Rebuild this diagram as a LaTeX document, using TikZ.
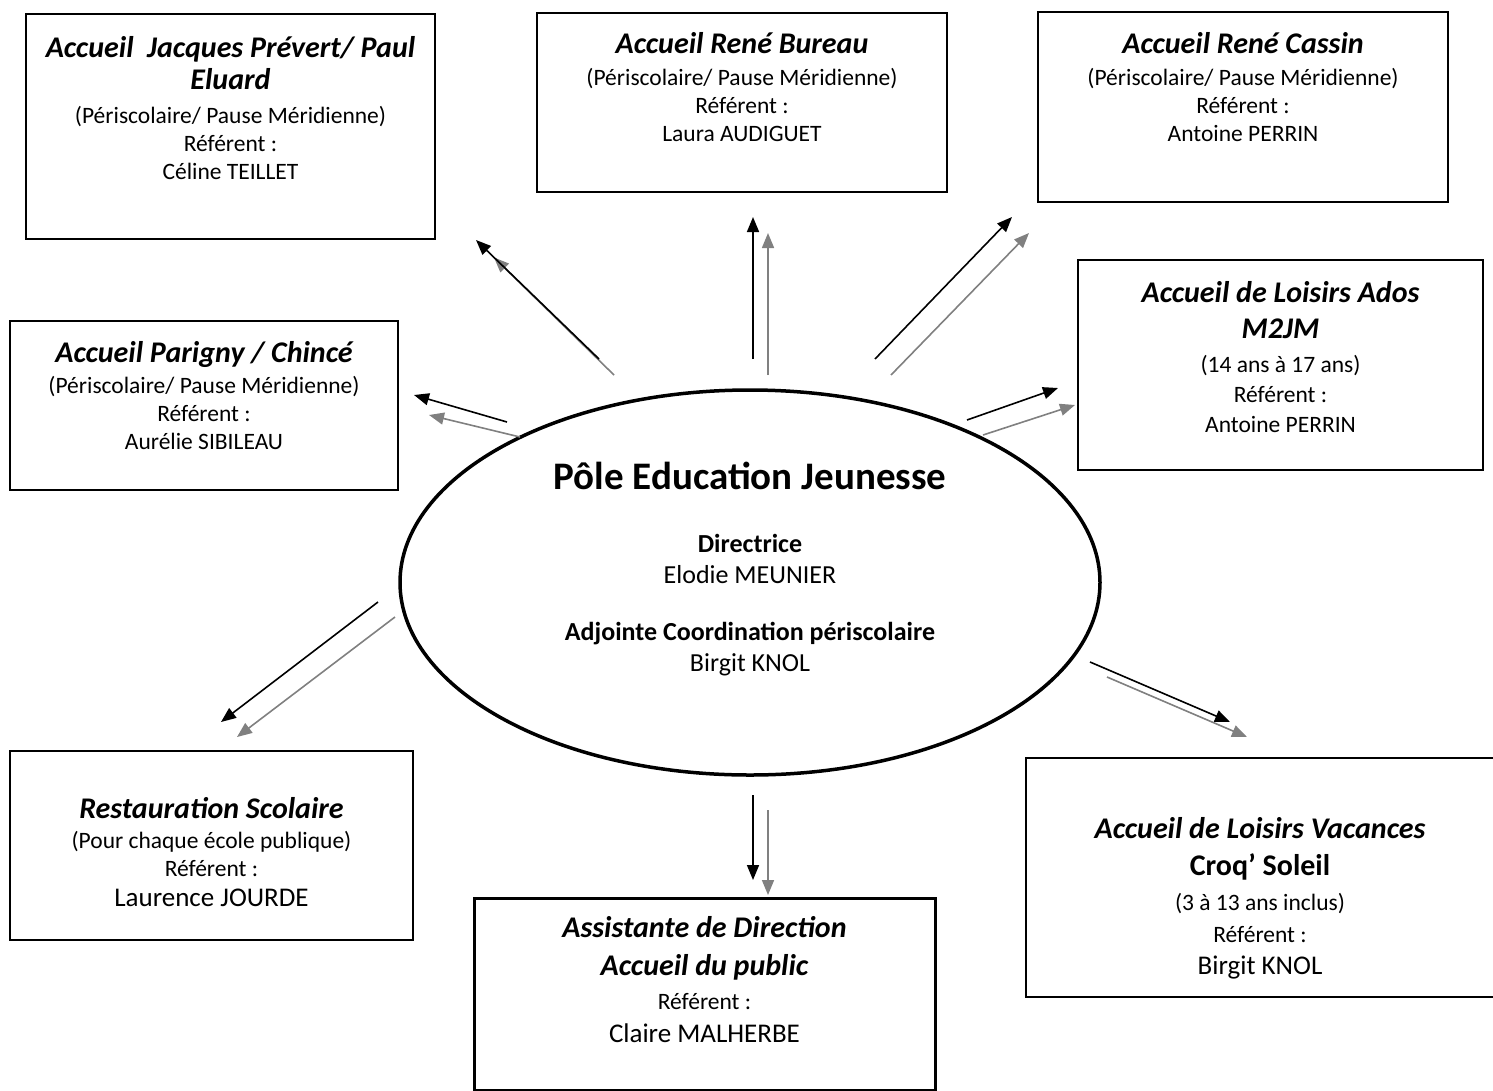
\documentclass[tikz,border=0pt]{standalone}
\usepackage{fontspec}
\setmainfont{Carlito}
\usetikzlibrary{shapes.geometric,arrows.meta}
\definecolor{arrowgray}{HTML}{808080}
\newcommand{\boxtitle}{\fontsize{30}{34}\selectfont\bfseries\itshape}
\newcommand{\boxbold}{\fontsize{30}{34}\selectfont\bfseries}
\newcommand{\boxbody}{\fontsize{23.5}{28}\selectfont}
\newcommand{\boxname}{\fontsize{27}{31}\selectfont}
\newcommand{\polebig}{\fontsize{39}{45}\selectfont\bfseries}

\begin{document}
\begin{tikzpicture}[x=1pt, y=-1pt,
  unit/.style={draw, line width=2.2pt, inner sep=0pt},
  unittext/.style={align=center, font=\boxbody, inner sep=0pt, anchor=north},
  blk/.style={line width=1.6pt, -{Triangle[length=15pt,width=12pt]}},
  gry/.style={blk, draw=arrowgray, fill=arrowgray}]
\useasboundingbox (0,0) rectangle (1493,1090);

\node[draw, ellipse, line width=3.5pt, minimum width=700pt, minimum height=385pt, inner sep=0pt] (pole) at (750,582.5) {};
\node[align=center, inner sep=0pt, anchor=north, font=\fontsize{26}{31}\selectfont] (pole-t) at (750,462) {{\polebig Pôle Education Jeunesse}\\[32pt]
  {\bfseries Directrice}\\ Elodie MEUNIER\\[26pt]
  {\bfseries Adjointe Coordination périscolaire}\\ Birgit KNOL};

\node[unit, minimum width=409pt, minimum height=225pt] (prevert) at (230.5,126.5) {};
\node[unittext] (prevert-t) at (230.5,36) {{\boxtitle Accueil\ \ Jacques Prévert/ Paul}\\[4pt]
  {\boxtitle Eluard}\\[6pt] (Périscolaire/ Pause Méridienne)\\ Référent :\\ Céline TEILLET};

\node[unit, minimum width=410pt, minimum height=179pt] (bureau) at (742,102.5) {};
\node[unittext] (bureau-t) at (742,32) {{\boxtitle Accueil René Bureau}\\[4pt]
  (Périscolaire/ Pause Méridienne)\\ Référent :\\ Laura AUDIGUET};

\node[unit, minimum width=410pt, minimum height=190pt] (cassin) at (1243,107) {};
\node[unittext] (cassin-t) at (1243,32) {{\boxtitle Accueil René Cassin}\\[4pt]
  (Périscolaire/ Pause Méridienne)\\ Référent :\\ Antoine PERRIN};

\node[unit, minimum width=405pt, minimum height=210pt] (ados) at (1280.5,365) {};
\node[unittext] (ados-t) at (1280.5,281) {{\boxtitle Accueil de Loisirs Ados}\\[8pt]
  {\boxtitle M2JM}\\[6pt] (14 ans à 17 ans)\\[2pt] Référent :\\[2pt] Antoine PERRIN};

\node[unit, minimum width=388pt, minimum height=169pt] (parigny) at (204,405.5) {};
\node[unittext] (parigny-t) at (204,341) {{\boxtitle Accueil Parigny / Chincé}\\[3pt]
  (Périscolaire/ Pause Méridienne)\\ Référent :\\ Aurélie SIBILEAU};

\node[unit, minimum width=403pt, minimum height=189pt] (resto) at (211.5,845.5) {};
\node[unittext] (resto-t) at (211.5,797) {{\boxtitle Restauration Scolaire}\\[2pt]
  (Pour chaque école publique)\\ Référent :\\[2pt] {\boxname Laurence JOURDE}};

\node[unit, line width=3pt, minimum width=461pt, minimum height=192pt] (assist) at (704.5,994) {};
\node[unittext] (assist-t) at (704.5,916) {{\boxtitle Assistante de Direction}\\[10pt]
  {\boxtitle Accueil du public}\\[6pt] Référent :\\[5pt] {\boxname Claire MALHERBE}};

\node[unit, minimum width=470pt, minimum height=239pt] (vacances) at (1261,877.5) {};
\node[unittext] (vacances-t) at (1260,817) {{\boxtitle Accueil de Loisirs Vacances}\\[9pt]
  {\boxbold Croq’ Soleil}\\[7pt] (3 à 13 ans inclus)\\[4pt] Référent :\\[4pt] {\boxname Birgit KNOL}};

\coordinate (nw-a) at (599,359);  \coordinate (nw-b) at (476,240);
\coordinate (nw-c) at (614,375);  \coordinate (nw-d) at (494,257.5);
\coordinate (n-a) at (753,359);   \coordinate (n-b) at (753,217);
\coordinate (n-c) at (768,375);   \coordinate (n-d) at (768,233);
\coordinate (ne-a) at (875,359);  \coordinate (ne-b) at (1012,217);
\coordinate (ne-c) at (891,375);  \coordinate (ne-d) at (1029,233);
\coordinate (e-a) at (967,420);   \coordinate (e-b) at (1058,388);
\coordinate (e-c) at (983,435);   \coordinate (e-d) at (1075,405);
\coordinate (w-a) at (507,422);   \coordinate (w-b) at (414,395);
\coordinate (w-c) at (520,437);   \coordinate (w-d) at (429,415);
\coordinate (sw-a) at (378,602);  \coordinate (sw-b) at (221,722);
\coordinate (sw-c) at (395,617);  \coordinate (sw-d) at (237,737);
\coordinate (s-a) at (753,795);   \coordinate (s-b) at (753,880);
\coordinate (s-c) at (768,810);   \coordinate (s-d) at (768,895);
\coordinate (se-a) at (1090,662); \coordinate (se-b) at (1230,722);
\coordinate (se-c) at (1107,677); \coordinate (se-d) at (1247,737);

\draw[gry] (nw-c) -- (nw-d);
\draw[blk] (nw-a) -- (nw-b);
\draw[blk] (n-a) -- (n-b);
\draw[gry] (n-c) -- (n-d);
\draw[blk] (ne-a) -- (ne-b);
\draw[gry] (ne-c) -- (ne-d);
\draw[blk] (e-a) -- (e-b);
\draw[gry] (e-c) -- (e-d);
\draw[blk] (w-a) -- (w-b);
\draw[gry] (w-c) -- (w-d);
\draw[blk] (sw-a) -- (sw-b);
\draw[gry] (sw-c) -- (sw-d);
\draw[blk] (s-a) -- (s-b);
\draw[gry] (s-c) -- (s-d);
\draw[blk] (se-a) -- (se-b);
\draw[gry] (se-c) -- (se-d);
\end{tikzpicture}
\end{document}
